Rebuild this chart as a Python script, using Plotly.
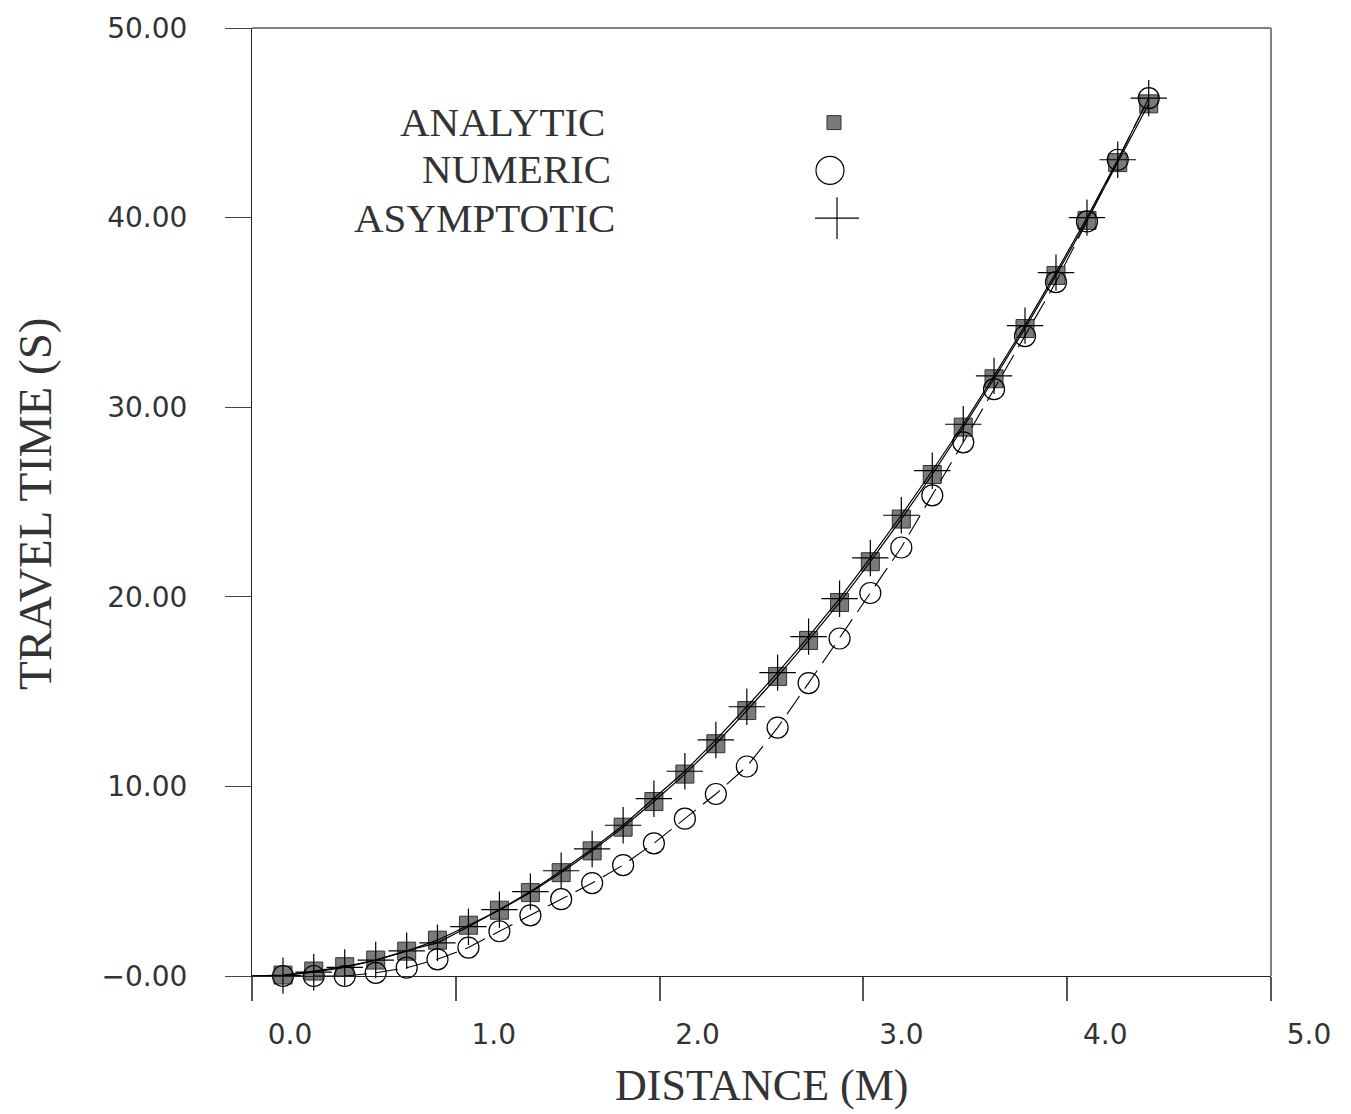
import plotly.graph_objects as go

# ---- data ----
distance = [0.152, 0.303, 0.455, 0.607, 0.759, 0.910, 1.062, 1.214, 1.366, 1.517,
            1.669, 1.821, 1.972, 2.124, 2.276, 2.428, 2.579, 2.731, 2.883, 3.034,
            3.186, 3.338, 3.490, 3.641, 3.793, 3.945, 4.097, 4.248, 4.400]
analytic = [0.05, 0.26, 0.49, 0.84, 1.31, 1.89, 2.68, 3.47, 4.4, 5.45,
            6.6, 7.85, 9.2, 10.65, 12.25, 14.0, 15.8, 17.7, 19.7, 21.85,
            24.1, 26.45, 28.95, 31.5, 34.15, 36.95, 39.85, 42.9, 46.0]
asymptotic = [0.02, 0.2, 0.45, 0.84, 1.33, 1.75, 2.6, 3.5, 4.45, 5.55,
              6.7, 7.95, 9.35, 10.8, 12.45, 14.2, 16.0, 17.9, 19.9, 22.05,
              24.3, 26.65, 29.1, 31.65, 34.3, 37.1, 40.0, 43.05, 46.3]
numeric = [0.0, 0.0, 0.0, 0.17, 0.44, 0.88, 1.5, 2.36, 3.2, 4.05,
           4.9, 5.85, 7.0, 8.3, 9.6, 11.05, 13.1, 15.45, 17.8, 20.2,
           22.6, 25.35, 28.15, 30.95, 33.75, 36.6, 39.8, 43.05, 46.3]
origin_x = [0.0]
origin_y = [0.0]

x_tick_vals = [0, 1, 2, 3, 4, 5]
x_tick_text = ["0.0", "1.0", "2.0", "3.0", "4.0", "5.0"]
y_tick_vals = [0, 10, 20, 30, 40, 50]
y_tick_text = ["\u22120.00", "10.00", "20.00", "30.00", "40.00", "50.00"]
series_names = ["ANALYTIC", "NUMERIC", "ASYMPTOTIC"]

# ---- figure geometry ----
W, H = 1351, 1114
L, R, T, B = 252, 80, 24, 138
PW = W - L - R
PH = H - T - B


def px_x(p):
    return (p - L) / PW


def px_y(p):
    return (H - B - p) / PH


SERIF = "Liberation Serif"
SANS = "DejaVu Sans"
INK = "#333333"

fig = go.Figure()

# analytic squares (under the lines)
fig.add_trace(go.Scatter(
    x=distance, y=analytic, mode="markers", name=series_names[0],
    marker=dict(symbol="square", size=18, color="#7a7a7a",
                line=dict(color="#333333", width=1)),
    cliponaxis=False, showlegend=False))

# lines (start at the origin)
fig.add_trace(go.Scatter(
    x=origin_x + distance, y=origin_y + analytic, mode="lines",
    line=dict(color="black", width=1.2), showlegend=False, cliponaxis=False))
fig.add_trace(go.Scatter(
    x=origin_x + distance, y=origin_y + asymptotic, mode="lines",
    line=dict(color="black", width=1.2), showlegend=False, cliponaxis=False))
fig.add_trace(go.Scatter(
    x=origin_x + distance, y=origin_y + numeric, mode="lines",
    line=dict(color="black", width=1.1, dash="22px,9px"),
    showlegend=False, cliponaxis=False))

# numeric circles
fig.add_trace(go.Scatter(
    x=distance, y=numeric, mode="markers", name=series_names[1],
    marker=dict(symbol="circle-open", size=21, color="black",
                line=dict(color="black", width=1.2)),
    cliponaxis=False, showlegend=False))

# asymptotic crosses
fig.add_trace(go.Scatter(
    x=distance, y=asymptotic, mode="markers", name=series_names[2],
    marker=dict(symbol="cross-thin-open", size=26, color="black",
                line=dict(color="black", width=1.2)),
    cliponaxis=False, showlegend=False))

# ---- legend (text left of symbol, as in the reference) ----
legend_rows = [
    (series_names[0], 607, 118),
    (series_names[1], 613, 166),
    (series_names[2], 617, 215),
]
annotations = []
for name, xr, yc in legend_rows:
    annotations.append(dict(
        text=name, xref="paper", yref="paper", x=px_x(xr), y=px_y(yc),
        xanchor="right", yanchor="middle", showarrow=False,
        font=dict(family=SERIF, size=41, color=INK)))

shapes = []
# square key
sq_c, sq_h = (834, 119), 7
shapes.append(dict(type="rect", xref="paper", yref="paper",
                   x0=px_x(sq_c[0] - sq_h), x1=px_x(sq_c[0] + sq_h),
                   y0=px_y(sq_c[1] + sq_h), y1=px_y(sq_c[1] - sq_h),
                   fillcolor="#7a7a7a", line=dict(color="#333333", width=1)))
# circle key
ci_c, ci_r = (830, 167), 14
shapes.append(dict(type="circle", xref="paper", yref="paper",
                   x0=px_x(ci_c[0] - ci_r), x1=px_x(ci_c[0] + ci_r),
                   y0=px_y(ci_c[1] + ci_r), y1=px_y(ci_c[1] - ci_r),
                   line=dict(color="black", width=1.2)))
# cross key
cr_c, cr_w, cr_h = (837, 215), 22, 21
shapes.append(dict(type="line", xref="paper", yref="paper",
                   x0=px_x(cr_c[0] - cr_w), x1=px_x(cr_c[0] + cr_w),
                   y0=px_y(cr_c[1]), y1=px_y(cr_c[1]),
                   line=dict(color="black", width=1.2)))
shapes.append(dict(type="line", xref="paper", yref="paper",
                   x0=px_x(cr_c[0]), x1=px_x(cr_c[0]),
                   y0=px_y(cr_c[1] - cr_h), y1=px_y(cr_c[1] + cr_h),
                   line=dict(color="black", width=1.2)))

# frame top and right (gray)
shapes.append(dict(type="line", xref="paper", yref="paper", x0=0, x1=1, y0=1, y1=1,
                   line=dict(color="#808080", width=2)))
shapes.append(dict(type="line", xref="paper", yref="paper", x0=1, x1=1, y0=0, y1=1,
                   line=dict(color="#808080", width=2)))

# axis titles
annotations.append(dict(
    text="DISTANCE (M)", xref="paper", yref="paper", x=0.5, y=0,
    yshift=-109, xanchor="center", yanchor="middle", showarrow=False,
    font=dict(family=SERIF, size=44, color=INK)))
annotations.append(dict(
    text="TRAVEL TIME (S)", xref="paper", yref="paper", x=0, y=0.5,
    xshift=35 - L, yshift=-2, xanchor="center", yanchor="middle", showarrow=False,
    textangle=-90, font=dict(family=SERIF, size=47, color=INK)))

fig.update_layout(
    width=W, height=H,
    margin=dict(l=L, r=R, t=T, b=B, pad=0),
    paper_bgcolor="white", plot_bgcolor="white",
    showlegend=False,
    shapes=shapes, annotations=annotations,
    xaxis=dict(range=[0, 5], tickmode="array", tickvals=x_tick_vals,
               ticktext=x_tick_text, ticks="outside", ticklen=24,
               tickcolor="#555555", tickwidth=1.5,
               showline=True, linecolor="#222222", linewidth=1,
               showgrid=False, zeroline=False,
               ticklabelshift=38, ticklabelstandoff=9,
               tickfont=dict(family=SANS, size=28, color=INK)),
    yaxis=dict(range=[0, 50], tickmode="array", tickvals=y_tick_vals,
               ticktext=y_tick_text, ticks="outside", ticklen=26,
               tickcolor="#444444", tickwidth=1.2,
               showline=True, linecolor="#222222", linewidth=1,
               showgrid=False, zeroline=False,
               ticklabelstandoff=32,
               tickfont=dict(family=SANS, size=28, color=INK)),
)

fig.write_html("out.html")
